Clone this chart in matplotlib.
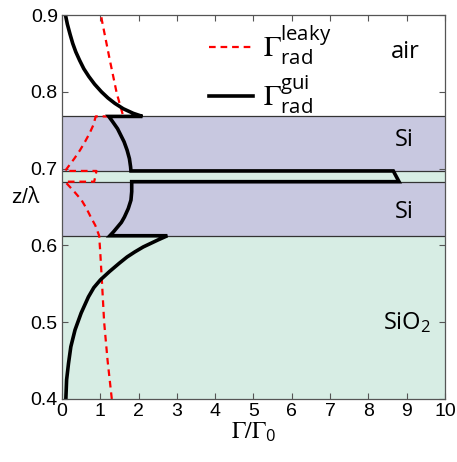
import numpy as np
import matplotlib
matplotlib.use("Agg")
import matplotlib.pyplot as plt

plt.rcParams["font.family"] = ["Liberation Sans", "DejaVu Sans"]
plt.rcParams["mathtext.fontset"] = "custom"
plt.rcParams["mathtext.rm"] = "STIXGeneral"
plt.rcParams["mathtext.sf"] = "Open Sans"
plt.rcParams["mathtext.it"] = "Open Sans"

# layer boundaries (z/lambda)
z_sio2_top = 0.6126
z_si1_top = 0.683
z_gap_top = 0.697
z_si2_top = 0.768

# Gamma_rad^gui, bottom to top
gui_z = [0.40, 0.425, 0.4465, 0.468, 0.49, 0.512, 0.533, 0.545, 0.555, 0.566, 0.577, 0.585,
         0.5915, 0.598, 0.607, 0.6126,
         0.6126, 0.618, 0.624, 0.630, 0.637, 0.648, 0.659, 0.670, 0.683,
         0.683, 0.697,
         0.697, 0.7025, 0.713, 0.724, 0.735, 0.746, 0.752, 0.757, 0.762, 0.768,
         0.768, 0.772, 0.778, 0.785, 0.792, 0.80, 0.81, 0.82, 0.83, 0.841, 0.852,
         0.863, 0.875, 0.888, 0.90]
gui_g = [0.10, 0.12, 0.17, 0.23, 0.34, 0.50, 0.69, 0.83, 1.00, 1.24, 1.50, 1.70,
         1.90, 2.12, 2.50, 2.75,
         1.25, 1.35, 1.45, 1.55, 1.63, 1.73, 1.80, 1.82, 1.82,
         8.80, 8.65,
         1.80, 1.79, 1.76, 1.70, 1.62, 1.51, 1.45, 1.38, 1.31, 1.22,
         2.10, 1.86, 1.60, 1.38, 1.20, 1.03, 0.85, 0.70, 0.57, 0.46, 0.36,
         0.28, 0.21, 0.14, 0.09]

# Gamma_rad^leaky
leaky_z = [0.40, 0.45, 0.50, 0.546, 0.59, 0.6126,
           0.6126, 0.626, 0.637, 0.648, 0.659, 0.670, 0.683,
           0.683, 0.697,
           0.697, 0.703, 0.713, 0.724, 0.735, 0.746, 0.757, 0.768,
           0.768, 0.798, 0.841, 0.8935, 0.90]
leaky_g = [1.30, 1.19, 1.10, 1.05, 1.00, 0.97,
           0.97, 0.87, 0.75, 0.64, 0.51, 0.32, 0.08,
           0.84, 0.90,
           0.08, 0.17, 0.32, 0.47, 0.60, 0.72, 0.82, 0.88,
           1.60, 1.43, 1.25, 1.04, 1.02]

si_color = "#c8c8e0"
sio2_color = "#d7ede4"

fig = plt.figure(figsize=(4.57, 4.62), dpi=100)
ax = fig.add_axes([0.1357, 0.1364, 0.838, 0.831])

ax.axhspan(0.4, z_sio2_top, color=sio2_color, lw=0)
ax.axhspan(z_sio2_top, z_si1_top, color=si_color, lw=0)
ax.axhspan(z_si1_top, z_gap_top, color=sio2_color, lw=0)
ax.axhspan(z_gap_top, z_si2_top, color=si_color, lw=0)
for zb in [z_sio2_top, z_si1_top, z_gap_top, z_si2_top]:
    ax.axhline(zb, color="#333333", lw=0.9)

ax.plot(leaky_g, leaky_z, "--", color="red", lw=1.6, dashes=(3, 2.2),
        label=r"$\Gamma_{\mathsf{rad}}^{\mathsf{leaky}}$")
ax.plot(gui_g, gui_z, "-", color="black", lw=2.6, solid_joinstyle="miter",
        label=r"$\Gamma_{\mathsf{rad}}^{\mathsf{gui}}$")

ax.set_xlim(0, 10)
ax.set_ylim(0.4, 0.9)
ax.set_xticks(range(0, 11))
ax.set_yticks([0.4, 0.5, 0.6, 0.7, 0.8, 0.9])
ax.tick_params(direction="in", top=True, right=True, length=4, width=0.8,
               color="#555555", labelsize=14, pad=3)
for s in ax.spines.values():
    s.set_color("#555555")
    s.set_linewidth(0.9)

ax.set_xlabel(r"$\Gamma/\Gamma_{\mathsf{0}}$", fontsize=17, labelpad=0)
ax.set_ylabel(r"z/$\lambda$", fontsize=15, rotation=0, labelpad=2)
ax.yaxis.set_label_coords(-0.095, 0.50)

lab = dict(fontsize=17, family=["Open Sans", "DejaVu Sans"], ha="center", va="center")
ax.text(8.96, 0.852, "air", **lab)
ax.text(8.93, 0.737, "Si", **lab)
ax.text(8.93, 0.643, "Si", **lab)
ax.text(9.0, 0.50, r"SiO$_{\mathsf{2}}$", **lab)

ax.legend(loc="upper left", bbox_to_anchor=(0.315, 1.045), frameon=False,
          fontsize=21, handlelength=1.5, handletextpad=0.35, labelspacing=0.2)

fig.savefig("out.png", dpi=100)
